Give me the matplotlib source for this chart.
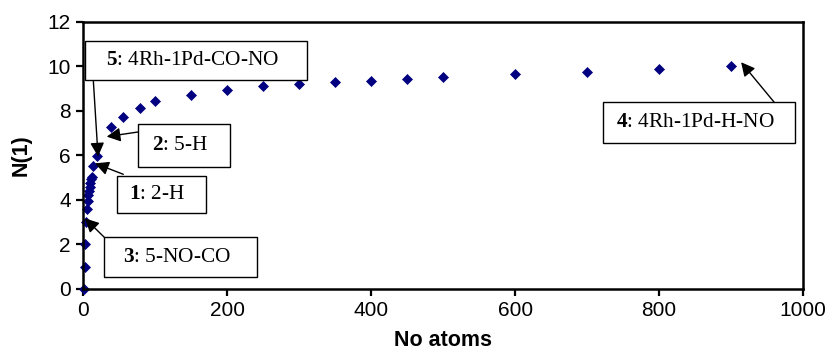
import matplotlib
matplotlib.use("Agg")
import matplotlib.pyplot as plt
from matplotlib.patches import Rectangle

plt.rcParams['font.family'] = ['Liberation Sans', 'DejaVu Sans']
plt.rcParams['mathtext.fontset'] = 'custom'
plt.rcParams['mathtext.rm'] = 'Liberation Serif'
plt.rcParams['mathtext.bf'] = 'Liberation Serif:bold'

# data
atoms = [1, 2, 3, 4, 5, 6, 7, 8, 9, 10, 11, 12, 13, 19, 38, 55, 79, 100,
         150, 200, 250, 300, 350, 400, 450, 500, 600, 700, 800, 900]
n1 = [0, 1.0, 2.0, 3.0, 3.6, 3.95, 4.22, 4.41, 4.59, 4.77, 4.93, 5.04, 5.54, 5.97,
      7.26, 7.74, 8.14, 8.44, 8.71, 8.94, 9.12, 9.22, 9.3, 9.36, 9.43, 9.5,
      9.63, 9.75, 9.88, 10.0]

labels = [r'$\mathbf{5}$: 4Rh-1Pd-CO-NO', r'$\mathbf{2}$: 5-H', r'$\mathbf{1}$: 2-H',
          r'$\mathbf{3}$: 5-NO-CO', r'$\mathbf{4}$: 4Rh-1Pd-H-NO']
# where each arrow points (data units)
arrow_x = [20.5, 32.5, 16.3, 2.4, 914]
arrow_y = [5.95, 6.84, 5.64, 3.17, 10.18]

W, H = 830, 354
# text boxes and arrow tails in figure pixels (x0, y0, x1, y1), y from top
boxes = [(85, 41, 307, 80), (138, 124, 230, 167), (117, 176, 206, 213),
         (104, 237, 257, 277), (603, 102, 795, 143)]
tails = [(93.3, 80), (140, 131.7), (123.3, 174.3), (104.3, 237.3), (774, 102)]

fig = plt.figure(figsize=(8.3, 3.54), dpi=100)
ax = fig.add_axes([83.3/W, 1-289/H, (803-83.3)/W, (289-21.7)/H])

ax.plot(atoms, n1, linestyle='none', marker='D', ms=4.6, color='#000080',
        mec='#000080', mew=0.5, clip_on=False, zorder=2)

ax.set_xlim(0, 1000)
ax.set_ylim(0, 12)
ax.set_xticks(range(0, 1001, 200))
ax.set_yticks(range(0, 13, 2))
ax.tick_params(direction='out', length=5, width=1.6, labelsize=15, pad=4)
for s in ax.spines.values():
    s.set_linewidth(1.8)

fig.text(443/W, 1-341/H, 'No atoms', fontsize=15.5, fontweight='bold',
         ha='center', va='center')
fig.text(21.5/W, 1-155/H, 'N(1)', fontsize=15.5, fontweight='bold',
         rotation=90, ha='center', va='center')

for lab, (x0, y0, x1, y1), (tx, ty), axx, axy in zip(labels, boxes, tails, arrow_x, arrow_y):
    fig.add_artist(Rectangle((x0/W, 1-y1/H), (x1-x0)/W, (y1-y0)/H,
                             transform=fig.transFigure, facecolor='white',
                             edgecolor='black', lw=1.0, zorder=5))
    fig.text((x0+x1)/2/W - 4/W, 1-(y0+y1)/2/H, lab, fontsize=15.3,
             family='Liberation Serif', ha='center', va='center', zorder=6)
    ax.annotate('', xy=(axx, axy), xytext=(tx/W, 1-ty/H),
                textcoords='figure fraction',
                arrowprops=dict(arrowstyle='-|>,head_length=0.55,head_width=0.28',
                                color='black', lw=1.0, mutation_scale=15,
                                shrinkA=0, shrinkB=0))

fig.savefig("out.png")
